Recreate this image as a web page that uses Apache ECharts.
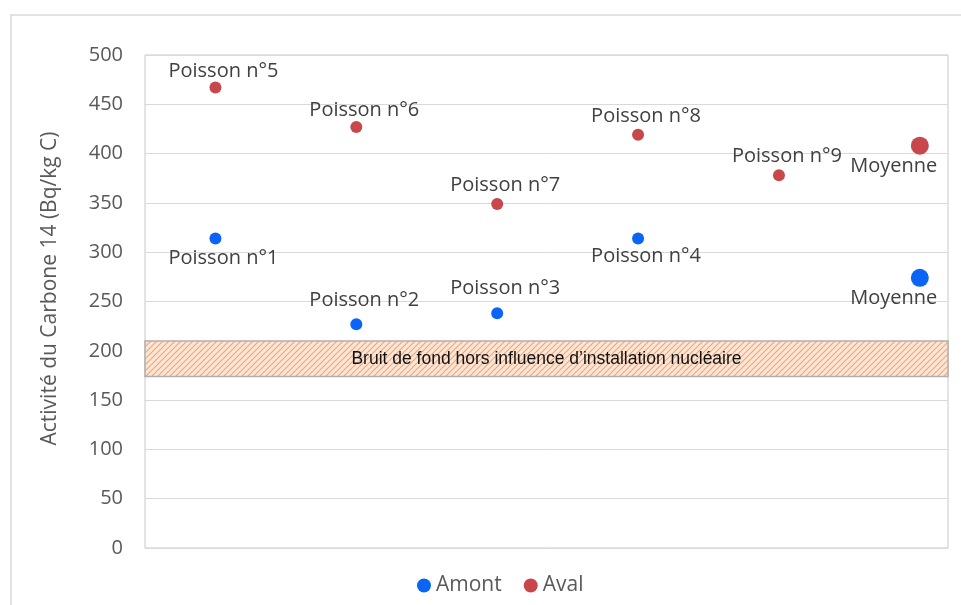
<!DOCTYPE html>
<html>
<head>
<meta charset="utf-8">
<script src="https://cdn.jsdelivr.net/npm/echarts@6/dist/echarts.min.js"></script>
<style>
  html, body { margin: 0; padding: 0; background: #fff; }
  #chart { width: 961px; height: 605px; }
</style>
</head>
<body>
<div id="chart"></div>
<script>
// positions along the (hidden) horizontal axis: 1..5 fish, 6 = average
const amontX = [1, 2, 3, 4, 6];
const amontValues = [314, 227, 238, 314, 274];
const amontNames = ["Poisson n°1", "Poisson n°2", "Poisson n°3", "Poisson n°4", "Moyenne"];

const avalX = [1, 2, 3, 4, 5, 6];
const avalValues = [467, 427, 349, 419, 378, 408];
const avalNames = ["Poisson n°5", "Poisson n°6", "Poisson n°7", "Poisson n°8", "Poisson n°9", "Moyenne"];

const backgroundBand = [174, 210];
const backgroundLabel = "Bruit de fond hors influence d\u2019installation nucléaire";

const yTicks = { min: 0, max: 500, interval: 50 };

// label placement (style only)
const amontLabelPos = ["bottom", "top", "top", "bottom", "bottom"];
const amontLabelGap = [4, 8, 9, 2, 1];
const avalLabelPos = ["top", "top", "top", "top", "top", "bottom"];
const avalLabelGap = [0, 1, 3, 3, 3, 2];

const makeHatch = () => {
  const c = document.createElement("canvas");
  c.width = 6;
  c.height = 6;
  const ctx = c.getContext("2d");
  ctx.fillStyle = "#fde6d6";
  ctx.fillRect(0, 0, 6, 6);
  ctx.strokeStyle = "#f2a574";
  ctx.lineWidth = 1.1;
  ctx.beginPath();
  ctx.moveTo(0, 6); ctx.lineTo(6, 0);
  ctx.moveTo(-3, 3); ctx.lineTo(3, -3);
  ctx.moveTo(3, 9); ctx.lineTo(9, 3);
  ctx.stroke();
  return c;
};

const buildPoints = (xs, values, names, positions, gaps) =>
  values.map((v, i) => {
    const isAvg = names[i] === "Moyenne";
    return {
      value: [xs[i], v],
      name: names[i],
      symbolSize: isAvg ? 18 : 12,
      label: {
        position: positions[i],
        distance: gaps[i],
        offset: isAvg ? [-26, 0] : [8, 0],
      },
    };
  });

const labelStyle = {
  show: true,
  formatter: (p) => p.name,
  fontFamily: "Open Sans",
  fontSize: 20,
  color: "#404040",
};

const chart = echarts.init(document.getElementById("chart"));

const option = {
  animation: false,
  textStyle: { fontFamily: "Open Sans" },
  graphic: [
    {
      type: "polyline",
      shape: { points: [[11, 605], [11, 15], [961, 15]] },
      style: { stroke: "#d9d9d9", lineWidth: 1.5, fill: null },
    },
  ],
  grid: {
    left: 145,
    right: 13,
    top: 55,
    bottom: 57,
    show: true,
    borderColor: "#c8c8c8",
    borderWidth: 1,
  },
  legend: {
    bottom: 4,
    left: 412,
    icon: "circle",
    itemWidth: 14,
    itemHeight: 14,
    itemGap: 22,
    textStyle: { fontSize: 21, color: "#595959", fontFamily: "Open Sans" },
    data: ["Amont", "Aval"],
  },
  xAxis: {
    type: "value",
    min: 0.5,
    max: 6.2,
    show: false,
  },
  yAxis: {
    type: "value",
    min: yTicks.min,
    max: yTicks.max,
    interval: yTicks.interval,
    name: "Activité du Carbone 14 (Bq/kg C)",
    nameLocation: "middle",
    nameGap: 84,
    nameTextStyle: {
      fontSize: 21,
      color: "#595959",
      fontFamily: "Open Sans",
      padding: [0, 0, 0, 26],
    },
    axisLine: { show: false },
    axisTick: { show: false },
    axisLabel: { fontSize: 20, color: "#595959", margin: 22, fontFamily: "Open Sans" },
    splitLine: { lineStyle: { color: "#d9d9d9", width: 1 } },
  },
  series: [
    {
      name: "Amont",
      type: "scatter",
      itemStyle: { color: "#0a64f5", opacity: 1 },
      label: labelStyle,
      data: buildPoints(amontX, amontValues, amontNames, amontLabelPos, amontLabelGap),
      z: 5,
    },
    {
      name: "Aval",
      type: "scatter",
      itemStyle: { color: "#c8474a", opacity: 1 },
      label: labelStyle,
      data: buildPoints(avalX, avalValues, avalNames, avalLabelPos, avalLabelGap),
      z: 5,
      markArea: {
        silent: true,
        itemStyle: {
          color: { image: makeHatch(), repeat: "repeat" },
          borderColor: "#b0b0b0",
          borderWidth: 1.5,
        },
        label: {
          show: true,
          position: "inside",
          color: "#111",
          fontSize: 17.5,
          fontFamily: "Liberation Sans",
        },
        data: [[
          { name: backgroundLabel, yAxis: backgroundBand[0] },
          { yAxis: backgroundBand[1] },
        ]],
      },
    },
  ],
};

chart.setOption(option);
</script>
</body>
</html>
